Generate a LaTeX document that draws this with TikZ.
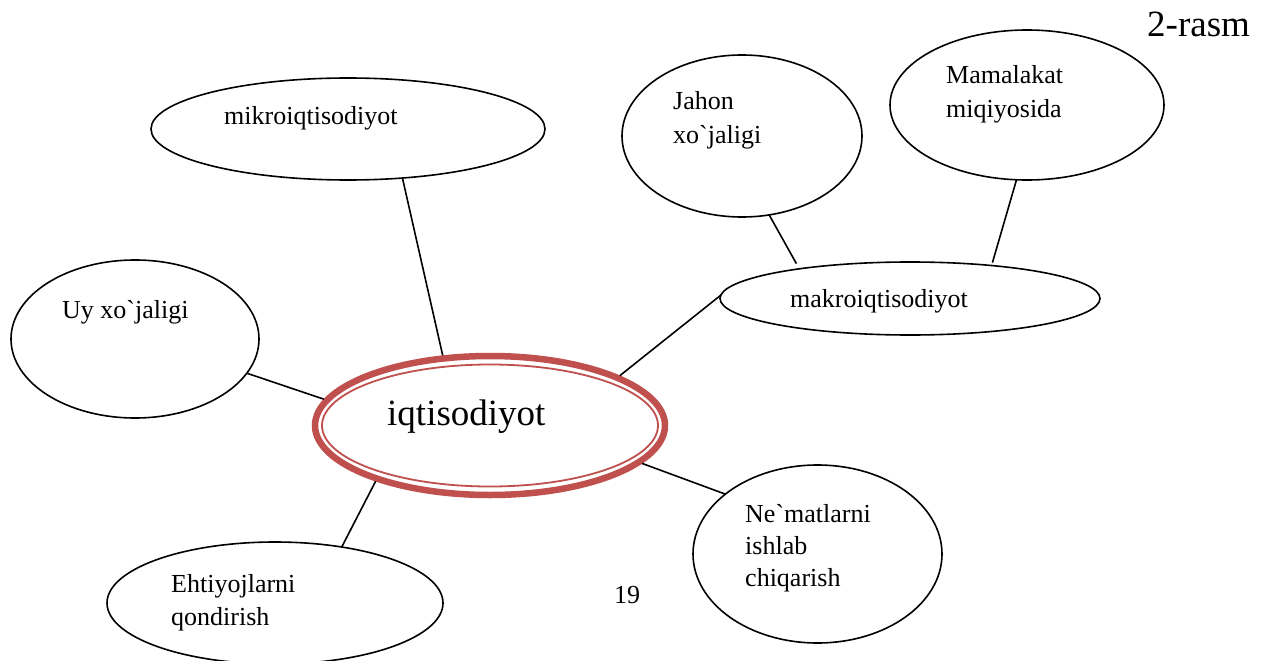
\documentclass[tikz,border=0pt]{standalone}
\usepackage{fontspec}
\setmainfont{Liberation Serif}[Ligatures=TeXOff]
\usetikzlibrary{shapes.geometric}
\definecolor{ringred}{HTML}{C0504D}
\newcommand{\gr}{\symbol{96}}
\begin{document}
\begin{tikzpicture}[x=1pt,y=-1pt,
  bubble/.style={ellipse,draw=black,line width=1.6pt,inner sep=0pt,outer sep=0pt,fill=white},
  conn/.style={draw=black,line width=1.6pt},
  lbl/.style={inner sep=0pt,anchor=base west,font=\fontsize{26}{32}\selectfont},
  biglbl/.style={inner sep=0pt,anchor=base west,font=\fontsize{37}{44}\selectfont}]
\useasboundingbox[fill=white] (0,0) rectangle (1269,661);
% ellipses
\node[bubble,minimum width=394pt,minimum height=102pt] (mik) at (348,129) {};
\node[bubble,minimum width=240pt,minimum height=162pt] (jah) at (742,136) {};
\node[bubble,minimum width=274pt,minimum height=150pt] (mam) at (1027,105) {};
\node[bubble,minimum width=380pt,minimum height=73pt] (mak) at (910,298.5) {};
\node[bubble,minimum width=248pt,minimum height=158pt] (uy) at (135,339) {};
\node[bubble,minimum width=249pt,minimum height=178pt] (nem) at (817.5,554) {};
\node[bubble,minimum width=336pt,minimum height=122pt] (eht) at (275,603) {};
\node[ellipse,draw=ringred,line width=6.5pt,inner sep=0pt,minimum width=350pt,minimum height=139pt] (iq) at (490,425.5) {};
\draw[ringred,line width=1.8pt] (iq.center) ellipse [x radius=168, y radius=61];
% connectors
\draw[conn] (mik.-42.3) -- (iq.124.7);
\draw[conn] (uy.-17.7) -- (iq.171);
\draw[conn] (eht.40) -- (iq.206.6);
\draw[conn] (nem.147.6) -- (iq.-14.1);
\draw[conn] (mak.179) -- (iq.21.1);
\draw[conn,shorten >=6pt] (jah.-71.8) -- (mak.165.5);
\draw[conn,shorten >=3pt] (mam.-98.3) -- (mak.22.4);
% texts
\node[lbl] (tmik) at (224,124) {mikroiqtisodiyot};
\node[lbl] (tjah1) at (673,110) {Jahon};
\node[lbl] (tjah2) at (673,143) {xo\gr jaligi};
\node[lbl] (tmam1) at (946,84) {Mamalakat};
\node[lbl] (tmam2) at (946,117) {miqiyosida};
\node[lbl] (tmak) at (790,307) {makroiqtisodiyot};
\node[lbl] (tuy) at (62,318) {Uy xo\gr jaligi};
\node[biglbl] (tiq) at (387,425) {iqtisodiyot};
\node[lbl] (tnem1) at (745,522) {Ne\gr matlarni};
\node[lbl] (tnem2) at (745,554) {ishlab};
\node[lbl] (tnem3) at (745,586) {chiqarish};
\node[lbl] (teht1) at (171,592) {Ehtiyojlarni};
\node[lbl] (teht2) at (171,625) {qondirish};
\node[lbl] (tpg) at (614,603) {19};
\node[biglbl] (tfig) at (1147,37) {2-rasm};
\end{tikzpicture}
\end{document}
